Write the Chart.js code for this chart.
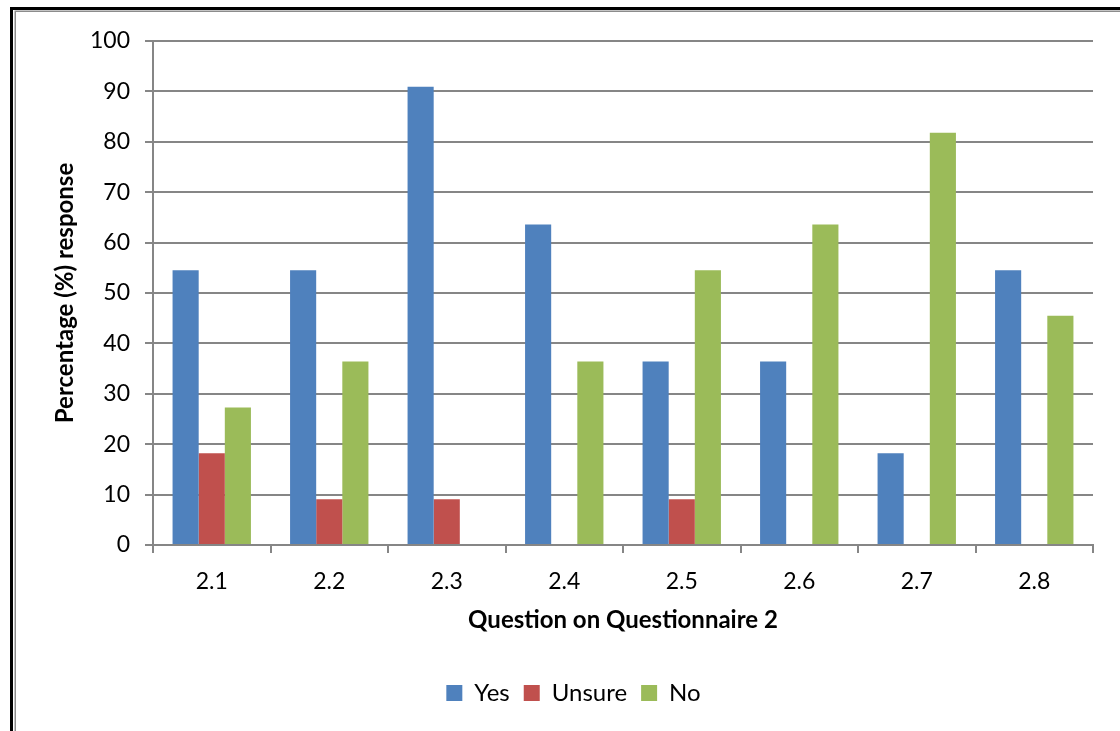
<!DOCTYPE html>
<html>
<head>
<meta charset="utf-8">
<script src="https://cdn.jsdelivr.net/npm/chart.js@4/dist/chart.umd.min.js"></script>
<style>
  html, body { margin: 0; padding: 0; background: #fff; }
  #wrap { width: 1120px; height: 731px; position: relative; }
</style>
</head>
<body>
<div id="wrap"><canvas id="c" width="1120" height="731"></canvas></div>
<script>
const questions = ['2.1', '2.2', '2.3', '2.4', '2.5', '2.6', '2.7', '2.8'];
const yesValues = [54.5, 54.5, 90.9, 63.6, 36.4, 36.4, 18.2, 54.5];
const unsureValues = [18.2, 9.1, 9.1, 0, 9.1, 0, 0, 0];
const noValues = [27.3, 36.4, 0, 36.4, 54.5, 63.6, 81.8, 45.5];
const seriesNames = ['Yes', 'Unsure', 'No'];
const seriesColors = ['#4F81BD', '#C0504D', '#9BBB59'];

const FONT = 'Lato, "Open Sans", sans-serif';
const GRID = '#868686';

// Double frame around the chart (dark outer line, grey inner line)
const framePlugin = {
  id: 'frame',
  beforeDraw(chart) {
    const ctx = chart.ctx;
    ctx.save();
    ctx.fillStyle = '#fff';
    ctx.fillRect(0, 0, chart.width, chart.height);
    ctx.strokeStyle = '#000';
    ctx.lineWidth = 3;
    ctx.strokeRect(11.5, 8.5, chart.width + 20, chart.height + 20);
    ctx.strokeStyle = '#8c8c8c';
    ctx.lineWidth = 1.5;
    ctx.strokeRect(15.25, 11.25, chart.width + 20, chart.height + 20);
    ctx.restore();
  }
};

// Nudge the legend a little to the right of the canvas centre
const legendShiftPlugin = {
  id: 'legendShift',
  afterLayout(chart) {
    const lg = chart.legend;
    if (lg) { lg.left += 17; lg.right += 17; }
  }
};

new Chart(document.getElementById('c'), {
  type: 'bar',
  data: {
    labels: questions,
    datasets: [
      { label: seriesNames[0], data: yesValues, backgroundColor: seriesColors[0] },
      { label: seriesNames[1], data: unsureValues, backgroundColor: seriesColors[1] },
      { label: seriesNames[2], data: noValues, backgroundColor: seriesColors[2] }
    ]
  },
  options: {
    responsive: false,
    animation: false,
    devicePixelRatio: 1,
    layout: { padding: { left: 20, top: 41, right: 27, bottom: 16 } },
    datasets: { bar: { categoryPercentage: 0.667, barPercentage: 1.0 } },
    plugins: {
      legend: {
        position: 'bottom',
        labels: {
          font: { family: FONT, size: 24 },
          color: '#000',
          boxWidth: 16,
          boxHeight: 16,
          padding: 14
        }
      },
      tooltip: { enabled: false }
    },
    scales: {
      x: {
        afterFit(s) { s.height = 122; },
        grid: { display: true, drawOnChartArea: false, offset: true, color: GRID, lineWidth: 2, tickLength: 8 },
        border: { color: GRID, width: 2 },
        ticks: { font: { family: FONT, size: 23 }, color: '#000', padding: 15 },
        title: {
          display: true,
          text: 'Question on Questionnaire 2',
          font: { family: FONT, size: 24, weight: 'bold' },
          color: '#000',
          padding: { top: 0, bottom: 32 },
          align: 'center'
        }
      },
      y: {
        min: 0,
        max: 100,
        afterFit(s) { s.width = 133; },
        ticks: { stepSize: 10, font: { family: FONT, size: 23 }, color: '#000', padding: 15 },
        grid: { color: GRID, lineWidth: 2, tickLength: 8 },
        border: { color: GRID, width: 2 },
        title: {
          display: true,
          text: 'Percentage (%) response',
          font: { family: FONT, size: 24, weight: 'bold' },
          color: '#000',
          padding: { top: 31, bottom: 0 }
        }
      }
    }
  },
  plugins: [framePlugin, legendShiftPlugin]
});
</script>
</body>
</html>
